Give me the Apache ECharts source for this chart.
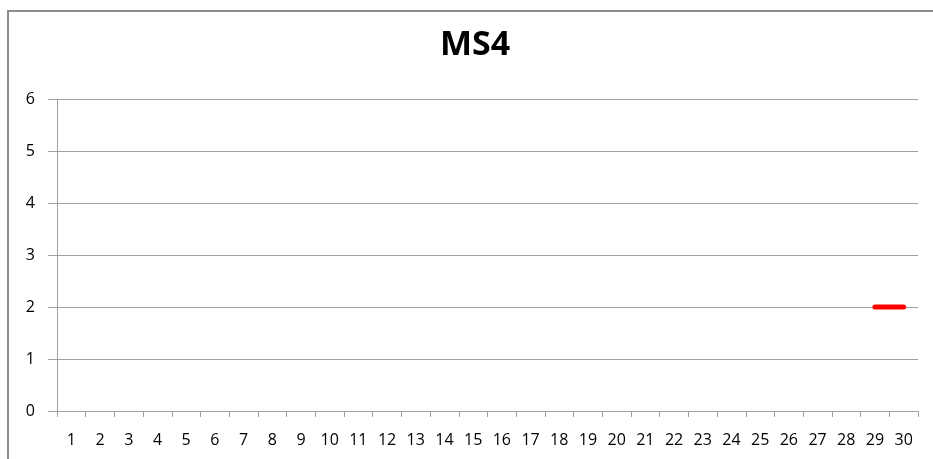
<!DOCTYPE html>
<html>
<head>
<meta charset="utf-8">
<script src="https://cdn.jsdelivr.net/npm/echarts@6/dist/echarts.min.js"></script>
<style>
  html, body { margin: 0; padding: 0; background: #fff; }
  #wrap { position: relative; width: 933px; height: 459px; overflow: hidden; }
  #frame {
    position: absolute; left: 7px; top: 10px; width: 960px; height: 480px;
    border-left: 2px solid #8c8c8c; border-top: 2px solid #8c8c8c;
    box-sizing: border-box; pointer-events: none;
  }
  #chart { position: absolute; left: 0; top: 0; width: 933px; height: 459px; }
</style>
</head>
<body>
<div id="wrap">
  <div id="chart"></div>
  <div id="frame"></div>
</div>
<script>
// chart data
const days = Array.from({ length: 30 }, (_, i) => String(i + 1));
const ms4Values = [
  null, null, null, null, null, null, null, null, null, null,
  null, null, null, null, null, null, null, null, null, null,
  null, null, null, null, null, null, null, null, 2, 2
];
const yTicks = [0, 1, 2, 3, 4, 5, 6];

const chart = echarts.init(document.getElementById("chart"), null, { renderer: "canvas" });

const option = {
  backgroundColor: "#fff",
  animation: false,
  textStyle: { fontFamily: "'Open Sans', 'DejaVu Sans', sans-serif", color: "#000" },
  title: {
    text: "MS4",
    left: 440,
    top: 28,
    padding: 0,
    textStyle: { fontSize: 34, fontWeight: "bold", color: "#000", fontFamily: "'Open Sans', sans-serif" }
  },
  grid: { left: 57, right: 15, top: 99, bottom: 48, containLabel: false },
  xAxis: {
    type: "category",
    data: days,
    boundaryGap: true,
    axisLine: { show: true, lineStyle: { color: "#a0a0a0", width: 1 } },
    axisTick: { show: true, interval: 0, length: 6, lineStyle: { color: "#a0a0a0" } },
    axisLabel: { interval: 0, fontSize: 16, color: "#000", margin: 21 },
    splitLine: { show: false }
  },
  yAxis: {
    type: "value",
    min: yTicks[0],
    max: yTicks[yTicks.length - 1],
    interval: 1,
    axisLine: { show: true, lineStyle: { color: "#a0a0a0", width: 1 } },
    axisTick: { show: true, length: 9, lineStyle: { color: "#a0a0a0" } },
    axisLabel: { fontSize: 16, color: "#000", margin: 22 },
    splitLine: { show: true, lineStyle: { color: "#a0a0a0", width: 1 } }
  },
  series: [
    {
      name: "MS4",
      type: "line",
      data: ms4Values,
      showSymbol: false,
      symbol: "none",
      connectNulls: false,
      lineStyle: { color: "#ff0000", width: 5, cap: "round" },
      itemStyle: { color: "#ff0000" }
    }
  ]
};

chart.setOption(option);
</script>
</body>
</html>
